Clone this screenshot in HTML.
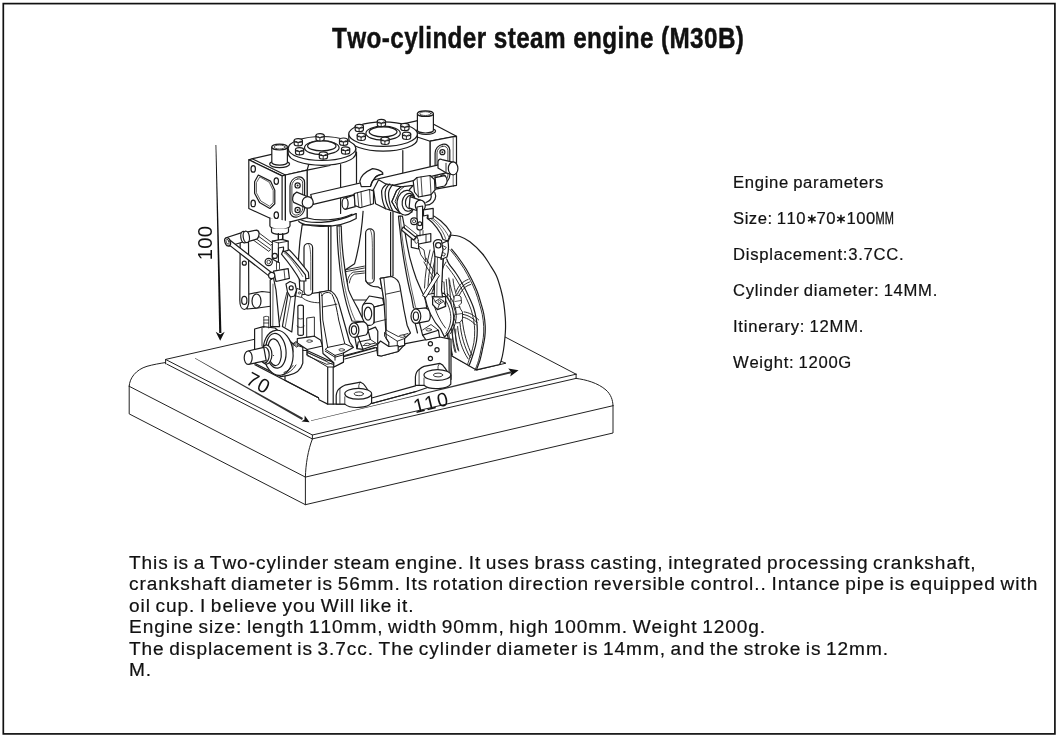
<!DOCTYPE html>
<html>
<head>
<meta charset="utf-8">
<title>Two-cylinder steam engine (M30B)</title>
<style>
html,body{margin:0;padding:0;background:#fff;}
body{filter:grayscale(1);width:1058px;height:738px;position:relative;overflow:hidden;font-family:"Liberation Sans",sans-serif;color:#111;}
#frame{position:absolute;left:3px;top:3px;width:1051px;height:730px;border:1.6px solid #1a1a1a;box-sizing:border-box;}
.t{font-kerning:none;position:absolute;white-space:nowrap;transform-origin:0 0;line-height:1;}
#title{-webkit-text-stroke:0.45px #111;left:332.4px;top:22.8px;font-weight:bold;font-size:30px;transform:scaleX(0.81);letter-spacing:0.489px;}
.p{-webkit-text-stroke:0.2px #111;word-spacing:-1px;font-size:16px;left:733px;transform:scaleX(1.04);letter-spacing:0.5px;}
.d{-webkit-text-stroke:0.2px #111;word-spacing:-1.5px;font-size:18px;left:129.2px;transform:scaleX(1.06);letter-spacing:0.65px;}
.mm{-webkit-text-stroke:0.35px #111;display:inline-block;width:8.6px;transform:scaleX(0.66);transform-origin:0 50%;letter-spacing:0;}
.ast{display:inline-block;width:9.6px;height:10px;vertical-align:0.5px;margin:0 0.2px;}
#art{position:absolute;left:0;top:0;width:1058px;height:738px;}
</style>
</head>
<body>
<div class="t" id="title">Two-cylinder steam engine (M30B)</div>
<div class="t p" id="p1" style="top:175px;letter-spacing:0.650px">Engine parameters</div>
<div class="t p" id="p2" style="top:211px;letter-spacing:0.511px">Size: 110<svg class="ast" viewBox="0 0 10 10"><path d="M5 0.6V9.4M1.2 2.8L8.8 7.2M8.8 2.8L1.2 7.2" stroke="#111" stroke-width="1.5" fill="none"/></svg>70<svg class="ast" viewBox="0 0 10 10"><path d="M5 0.6V9.4M1.2 2.8L8.8 7.2M8.8 2.8L1.2 7.2" stroke="#111" stroke-width="1.5" fill="none"/></svg>100<span class="mm">M</span><span class="mm">M</span></div>
<div class="t p" id="p3" style="top:247px;letter-spacing:0.720px">Displacement:3.7CC.</div>
<div class="t p" id="p4" style="top:283px;letter-spacing:0.662px">Cylinder diameter: 14MM.</div>
<div class="t p" id="p5" style="top:319px;letter-spacing:0.718px">Itinerary: 12MM.</div>
<div class="t p" id="p6" style="top:355px;letter-spacing:0.669px">Weight: 1200G</div>
<div class="t d" id="d1" style="top:554px;letter-spacing:0.874px">This is a Two-cylinder steam engine. It uses brass casting, integrated processing crankshaft,</div>
<div class="t d" id="d2" style="top:575px;letter-spacing:0.881px">crankshaft diameter is 56mm. Its rotation direction reversible control.. Intance pipe is equipped with</div>
<div class="t d" id="d3" style="top:597px;letter-spacing:0.882px">oil cup. I believe you Will like it.</div>
<div class="t d" id="d4" style="top:618px;letter-spacing:0.862px">Engine size: length 110mm, width 90mm, high 100mm. Weight 1200g.</div>
<div class="t d" id="d5" style="top:640px;letter-spacing:0.866px">The displacement is 3.7cc. The cylinder diameter is 14mm, and the stroke is 12mm.</div>
<div class="t d" id="d6" style="top:661px;letter-spacing:0.88px">M.</div>
<svg id="art" viewBox="0 0 1058 738" fill="none" stroke="#222" stroke-width="1" stroke-linecap="round" stroke-linejoin="round">
<rect x="3.3" y="3.6" width="1051.6" height="730.3" stroke="#111" stroke-width="1.7" fill="none" stroke-linejoin="miter"/>

<g id="base" stroke="#222" stroke-width="1">
<path d="M129.2,386.2V413.9L305.4,504.7L613,433V405.7"/>
<path d="M129.2,386.2C129.5,378 136,369.6 147,366.3C153,364.6 160,363.4 165.2,362.6"/>
<path d="M165.6,359.4V363.8"/>
<path d="M129.2,386.3L305.4,477.1L613,405.7"/>
<path d="M305.4,477.1V504.7"/>
<path d="M305.4,477.1C305.6,465 308,450 312.4,438.9"/>
<path d="M312.4,435V438.9"/>
<path d="M166.1,359.7L312.4,435L576.1,374.2"/>
<path d="M166.8,364.1L312.3,438.9L576.1,378.4"/>
<path d="M576.1,374.2V378.4"/>
<path d="M576.1,378.4C586,379.6 598,383 606,390C611,394.5 612.8,400 613,405.7"/>
<path d="M504.9,336.9L576.1,374.2"/>
<path d="M166.1,359.3L254,339.4"/>
</g>
<g id="dims" stroke="none" fill="#111">
<path d="M215.5,144.9L216.3,144.9L221.4,333L219.2,333Z"/>
<path d="M220.2,340.7L215.7,331.8L220.2,334.6L224.7,331.8Z"/>
<path d="M195.2,358.1L230,377.5L303,418L302,420L229.6,378.4L195,358.6Z" fill="#333"/>
<path d="M309.6,422.3L301.5,421.6L304.5,419.4L304.7,415.6Z"/>
<path d="M310.9,420.5L400,398.9L511,371.2L511.5,373.2L400,399.7L311,421Z" fill="#333"/>
<path d="M518.6,370.3L510.2,376.6L511.4,372.2L508.2,368.4Z"/>
</g>
<g id="dimtext" stroke="none" fill="#111" font-family="Liberation Sans, sans-serif" text-anchor="middle">
<text transform="translate(211.7,243) rotate(-90)" font-size="20.2" letter-spacing="0.3">100</text>
<text transform="translate(255.4,389) rotate(28.5)" font-size="19.8" letter-spacing="1">70</text>
<text transform="translate(433.3,408.8) rotate(-13.6)" font-size="19.6" letter-spacing="2">110</text>
</g>

<g id="flywheel" stroke="#1c1c1c" stroke-width="1.20" fill="#fff">
<!-- slot in platform -->
<path d="M451.6,355.9L477.2,369.9L505.9,363.2L500.4,361" fill="none" stroke-width="1.00"/>
<!-- outer rim + face -->
<path d="M451.0,235.1C452.5,235.3 456.9,235.4 460.0,236.5C463.1,237.6 466.1,238.9 469.9,241.8C473.7,244.7 479.2,250.1 482.6,254.0C486.0,257.9 487.6,261.3 490.0,265.0C492.4,268.7 494.9,272.2 496.7,276.4C498.5,280.6 499.8,285.6 501.0,290.0C502.2,294.4 503.0,298.2 503.7,302.9C504.4,307.6 505.0,313.6 505.3,318.0C505.6,322.4 505.6,326.0 505.5,329.3C505.4,332.6 505.2,334.6 504.9,338.0C504.6,341.4 504.1,346.2 503.5,350.0C502.9,353.8 501.8,358.6 501.1,361.0C500.4,363.4 499.8,363.9 499.5,364.5L476.4,369.9L452,356L440,300L444,250Z"/>
<!-- front rim edge (double) -->
<path d="M451.6,249.1C452.7,250.4 455.6,253.8 457.9,257.0C460.2,260.1 463.1,264.2 465.5,268.0C467.9,271.8 470.1,276.2 472.0,280.0C473.9,283.8 475.5,287.2 477.0,291.0C478.5,294.8 479.7,299.1 480.8,302.9C481.9,306.7 483.1,310.2 483.8,314.0C484.5,317.8 485.0,322.0 485.2,325.8C485.4,329.6 485.2,333.2 484.8,337.0C484.4,340.8 483.4,344.9 482.6,348.7C481.8,352.5 481.0,356.5 480.0,360.0C479.0,363.5 477.0,368.2 476.4,369.9" fill="none"/>
<path d="M450.1,249.7C451.2,251.0 454.1,254.5 456.4,257.6C458.7,260.8 461.6,264.8 464.0,268.6C466.4,272.4 468.6,276.8 470.5,280.6C472.4,284.4 474.0,287.8 475.5,291.6C477.0,295.4 478.2,299.7 479.3,303.5C480.4,307.3 481.6,310.8 482.3,314.6C483.0,318.4 483.5,322.6 483.7,326.4C483.9,330.2 483.7,333.8 483.3,337.6C482.9,341.4 481.9,345.5 481.1,349.3C480.3,353.1 479.5,357.1 478.5,360.6C477.5,364.1 475.5,368.9 474.9,370.5" fill="none" stroke-width="0.90"/>
<!-- inner rim -->
<path d="M446.7,258.9C447.1,259.8 447.5,261.6 449.1,264.1C450.7,266.6 454.1,270.5 456.5,274.0C458.9,277.5 461.1,281.5 463.2,285.3C465.3,289.1 467.2,293.2 469.0,297.0C470.8,300.8 472.5,304.5 473.7,308.2C474.9,311.9 475.7,315.5 476.3,319.0C476.9,322.5 477.3,325.6 477.3,329.3C477.3,333.0 477.1,337.2 476.5,341.0C475.9,344.8 474.8,348.6 473.7,352.2C472.6,355.8 471.0,360.6 470.2,362.8C469.4,365.0 468.9,365.1 468.7,365.6" fill="none"/>
<path d="M446.5,265.6C447.7,267.2 451.5,272.0 453.9,275.5C456.2,279.0 458.5,283.0 460.6,286.8C462.7,290.6 464.6,294.7 466.4,298.5C468.1,302.3 469.9,306.0 471.1,309.7C472.3,313.4 473.1,317.0 473.7,320.5C474.3,324.0 474.7,327.1 474.7,330.8C474.7,334.5 474.5,338.7 473.9,342.5C473.3,346.3 472.1,350.1 471.1,353.7C470.0,357.3 468.2,362.5 467.6,364.3" fill="none" stroke-width="0.90"/>
<!-- far-side inner rim (left) -->
<path d="M446.2,279.4C448,300 450,330 456,352.5M448.8,278C450.6,300 452.8,328 458.8,351M444,282C445,305 448,335 452.5,355" fill="none" stroke-width="0.90"/>
<!-- spokes -->
<path d="M456,292C458,286 462.5,281.5 468.2,279.4M459,296C461.5,290 465,286 470.6,284.5M457.5,294C460,288 464,284 469.5,282" fill="none" stroke-width="0.95"/>
<path d="M460.9,316.7C466,317.5 471,320 475.5,324.9M464.1,311.9C469,312.5 474,315 478.7,320M462.5,314.3C467.5,315 472.5,317.5 477,322.5" fill="none" stroke-width="0.95"/>
<path d="M457.6,326.5C458.5,338 462,350 468.2,359M462.3,320C463.5,332 467,345 472.2,355.7M460,323.2C461,335 464.5,348 470.3,357.5" fill="none" stroke-width="0.95"/>
<path d="M454,298C452,292 450,286 449.5,280M456.5,296C455,290 453.5,285 453,279" fill="none" stroke-width="0.90"/>
<path d="M453,328C452,336 452.5,345 455,352M455.8,329C455.2,337 455.8,344 458,350" fill="none" stroke-width="0.90"/>
<!-- hub blocks -->
<path d="M454.5,296C456.5,294.5 459.5,295 461,297L461.5,303L459,305.5L460.5,309L462.5,312V319L460,322.5L456,323L454,318L455.5,312L453.5,306Z" stroke-width="0.9"/>
<path d="M455,301.5L461,300.5M454.5,308L460,307M455.5,314.5L462,313.5" fill="none" stroke-width="0.7"/>
<!-- spokes visible left of strap, behind linkage -->
<path d="M443,268C438,276 432,290 430,300M440.5,266C435,275 429,288 427,298M446,262C441,270 436,281 433.5,290" fill="none" stroke-width="0.90"/>
<path d="M446,300C440,292 436,282 434,272M444,304C438,297 433,287 431,277" fill="none" stroke-width="0.90"/>
<path d="M430,250C427,262 425,275 424.5,288M433.5,251C430.5,262 428.5,275 428,286M437,252C434,262 432,272 431.5,282" fill="none" stroke-width="0.90"/>
<path d="M424,262C428,270 434,279 441,286M426,258C430,266 436,275 443,282" fill="none" stroke-width="0.90"/>
</g>

<g id="columns" stroke="#1c1c1c" stroke-width="1.20" fill="#fff">
<!-- base box body -->
<path d="M285,350L307,350.5L333.8,362.7L343.5,356.6L376.5,347.5L377.7,355.4L381.3,356L398.2,351.5L405.5,343.7L439.6,337L449.1,338.8L451,339V379.5L416,391.5L371.6,403.5L333.2,404.1L327.7,404.1L319,399.8L318.4,397.7L285,380.34Z"/>
<path d="M327.7,367V404.1M333.2,367V404.1M449.1,338.8V380" fill="none"/>
<path d="M307,354.8L327.7,367L333.8,367L343.5,362.1V356.6M307,350.5V354.8M333.8,362.7V367" fill="none" stroke-width="1.00"/>
<path d="M308,352.5L333,364.8L343,359.5" fill="none" stroke-width="0.70"/>
<path d="M344.8,359L376.5,350.5M344.8,355.4L375.2,347.4" fill="none" stroke-width="1.00"/>
<path d="M254.9,364.7L318.4,397.7" fill="none"/>
<path d="M371.6,398L415.4,385.8M371.6,403.5L416,391.5" fill="none"/>
<circle cx="430.4" cy="343.7" r="2.1"/><circle cx="437" cy="349.8" r="2.1"/><circle cx="430.4" cy="358.5" r="2.1"/>
<!-- left lug -->
<path d="M336.2,395.6C336.6,392 338,389.5 339.9,388.3C341.5,386.8 343,385.8 344.8,385.2L360.6,382.2C363,383 364.6,384.8 365.5,386.5L369.1,392L371.6,394.4V402.9C368,408 351,409.5 344.8,404.1L336.2,404.1Z"/>
<path d="M344.8,396.8V404.1M339.9,388.3V403.5M360.6,382.2C358.6,384 358.2,386.5 359.2,388.6" fill="none" stroke-width="0.80"/>
<ellipse cx="358.2" cy="393.8" rx="13.4" ry="5.4"/>
<ellipse cx="358.8" cy="393.8" rx="4.6" ry="1.9" stroke-width="0.90"/>
<!-- right lug -->
<path d="M415.4,376.8C415.8,373.2 417.2,370.7 419.1,369.5C420.7,368.0 422.2,367.0 424.0,366.4L439.8,363.4C442.2,364.2 443.8,366.0 444.7,367.7L448.3,373.2L450.8,375.6V384.1C447.2,389.2 430.2,390.7 424.0,385.3L415.4,385.3Z"/>
<path d="M424.0,378.0V385.3M419.1,369.5V384.7M439.8,363.4C437.8,365.2 437.4,367.7 438.4,369.8" fill="none" stroke-width="0.80"/>
<ellipse cx="437.4" cy="375.0" rx="13.4" ry="5.4"/>
<ellipse cx="438.0" cy="375.0" rx="4.6" ry="1.9" stroke-width="0.90"/>
<!-- left column -->
<path d="M302.2,224.6C300,238 298.8,250 298.5,261.2L300,295L319.3,292.3L330.9,290.5V225.9Z"/>
<path d="M328.4,225.9V290.5" fill="none"/>
<rect x="304" y="243.5" width="8.6" height="51.9" rx="4.3"/>
<path d="M308.8,244.5C310.6,247 310.8,255 310.8,265V290" fill="none" stroke-width="0.70"/>
<path d="M300,295C303,300.5 312,303.2 320.5,302.7" fill="none" stroke-width="0.9"/>
<!-- right column -->
<path d="M363.2,210C362,228 359,248 354.6,263.7L345.5,269.8L347,300L384,300L380.2,278.3L391.2,276.5L393,276V210Z"/>
<path d="M390.6,212V276" fill="none"/>
<rect x="365.6" y="228.9" width="8.6" height="54.3" rx="4.3"/>
<path d="M370.4,230C372.2,233 372.4,241 372.4,251V279" fill="none" stroke-width="0.70"/>
<path d="M345.5,269.8L364.4,266.1M346,271.6L364.4,268" fill="none" stroke-width="0.90"/>
<path d="M347.3,282C348,277 350,273.5 353.4,272.2L364.4,271M349.3,283C350,279 351.5,275.5 354.4,274.2L364.4,273" fill="none" stroke-width="0.90"/>
<path d="M365.6,280.7C368,285 372,287 377.8,286.8L380.5,288.5" fill="none"/>
</g>

<g id="pedestals" stroke="#1c1c1c" stroke-width="1.20" fill="#fff">
<!-- base top plates / flanges (back) -->
<path d="M297.3,338.7L314.4,336.2L320.5,339.9L322.5,346L307.1,349.5L297.3,343Z"/>
<ellipse cx="309.5" cy="341.1" rx="2.8" ry="1.2" stroke-width="0.80"/>
<path d="M307.1,349.5V355.7L326.6,364.3L342.4,361.2M307.1,352.5L326.6,361L342.4,358" fill="none" stroke-width="0.90"/>
<!-- middle pedestal -->
<path d="M380.2,278.3L391.2,276.5C396,278 399,281 399.8,285.6L404,310L407.1,325.2L410.5,333L404.6,338.5V345.4L397.3,347.2V351.5L388.8,346.5V342.3L386.3,338.7L383.9,300Z"/>
<path d="M383.9,278.3L386,300L386.3,330.2L398.2,336.5L407.9,333.5" fill="none" stroke-width="0.90"/>
<path d="M386.3,294.1L399.8,291.1" fill="none" stroke-width="0.90"/>
<path d="M386.3,330.2L384.5,333L397.3,341.2L404.6,338.5M397.3,341.2V347.2M384.5,333V336L388.8,342.3" fill="none" stroke-width="0.90"/>
<ellipse cx="402.3" cy="336.2" rx="2.8" ry="1.2" stroke-width="0.80"/>
<!-- crank web & shaft -->
<path d="M363.2,304.5L369.3,296L382.7,298.4L383.9,304.5L374.1,307V322.8L363.2,325.4Z"/>
<rect x="362.2" y="303.4" width="11.8" height="22" rx="4.5"/>
<ellipse cx="368" cy="313.7" rx="3.7" ry="6.5"/>
<path d="M374.1,307L383.9,304.5M374,322.5L386,319.5" fill="none" stroke-width="0.90"/>
<!-- plates in front of crank -->
<path d="M358.2,342L370.4,339.5L368,330.1L375.4,327.1L377.8,331.3L377.7,344.4V355.4L381.3,356L398.2,351.5V345.5L388.8,346.5L380.5,341L377.7,344.4L363,349.3L357,348.7Z"/>
<path d="M363,345.6L375.2,343.2M377.7,344.4L370.4,339.5" fill="none" stroke-width="0.90"/>
<ellipse cx="367.3" cy="344.4" rx="2.8" ry="1.2" stroke-width="0.80"/>
<!-- left pedestal -->
<path d="M319.3,292.3L329,290.5C333,291.5 336.5,295 338.8,303.3L343.5,320L349.6,342L353.3,347.4L343.5,352.9V362.1L333.8,367L333.8,362.7L323,353.5L320.4,320Z"/>
<path d="M322,295.4L322.8,320L327.7,347.4L344.8,343.8L338.7,320C337,310 335,300 332,294.5C330,291.5 324,291.8 322,295.4Z" stroke-width="1.00"/>
<path d="M322.3,307L336.8,304.2" fill="none" stroke-width="0.90"/>
<path d="M319.3,292.3C320,291.5 321.5,293 322,295.4" fill="none" stroke-width="0.80"/>
<path d="M327.7,347.4L325.2,349.3L335,355.4L343.5,352.9M344.8,343.8L353.3,347.4M335,355.4V360.2M325.2,351.1L335,357.2L343.5,354.8" fill="none" stroke-width="1.00"/>
<ellipse cx="341.7" cy="349.9" rx="2.8" ry="1.2" stroke-width="0.80"/>
<!-- left conn leg -->
<path d="M337,225.9C337.5,250 340,272 342.4,285C345,300 348.5,312 352,321L364,321.6C361.5,316 359.5,312 358.3,309.4C353,300 350,294 348.5,289.9C344,268 341.5,245 341.2,225.9Z"/>
<path d="M339.2,226C339.6,250 342,272 344.6,286C347,298 350.5,311 355,320" fill="none" stroke-width="0.70"/>
<!-- left boss -->
<path d="M354,322.8L363.2,321.6C366.5,322.5 368.2,326 368,330C367.8,333 366.8,334.6 365.6,335L354.6,337.4Z"/>
<ellipse cx="354" cy="330.1" rx="4.9" ry="7.3"/>
<ellipse cx="354" cy="330.1" rx="2.6" ry="4.2"/>
<path d="M355.1,338.3L357,348.7M358.2,337.1L363,349.3" fill="none"/>
<!-- right conn leg -->
<path d="M398.5,216.1C399,222 399.5,226 400,229.9C401,242 403,255 404.9,265.7C407,278 409,288 411.4,296.6L413.5,308L427,309.6C426.5,304 425.5,300 424.4,296.6C421,290 418.5,284 416.3,278.7C413.5,271 411.5,264 409.8,257.6C407,245 405,234 404.1,225L402.4,216Z"/>
<path d="M400.4,216C401,232 404,252 407,267C409.5,280 412.5,294 415.5,307" fill="none" stroke-width="0.70"/>
<!-- right boss -->
<path d="M415.9,309L425.5,307.8C428.8,308.7 430.5,312.2 430.3,316.2C430.1,319.2 429.1,320.8 427.9,321.2L416.5,323.4Z"/>
<ellipse cx="415.9" cy="316.2" rx="4.9" ry="7.2"/>
<ellipse cx="415.9" cy="316.2" rx="2.6" ry="4.2"/>
<path d="M415.2,323.4L417.5,333M419.5,323L422.6,335.1" fill="none"/>
<path d="M422.6,335.1L438.4,330.2L439.6,337L426,340Z"/>
<ellipse cx="428.7" cy="329.8" rx="2.8" ry="1.2" stroke-width="0.80"/>
<path d="M422.6,330L431,324.5L438.4,330.2" fill="none" stroke-width="0.90"/>
</g>

<g id="block" stroke="#1c1c1c" stroke-width="1.20" fill="#fff">
<!-- cylinder block body -->
<path d="M307.1,170.1L307.1,217.7L322,224L356.5,213.4L356.5,150L340,160Z" stroke="none"/>
<path d="M356.5,140L356.5,210L380,213L402.8,210L430.2,190.2L430.2,141.2L415,130Z" stroke="none"/>
<path d="M307.1,170.1V217.7M340.6,164.6V213.4M356.5,152V206M402.8,150.6V177M430.2,141.2V167"/>
<path d="M307.1,170.1L330,165.5"/>
<!-- left cyl bottom flange -->
<path d="M300,219.5C308,223.3 330,225.2 356,213.6" fill="none"/>
<path d="M307.5,218C318,221.3 338,220.6 352,214.2" fill="none"/>
<path d="M298.6,221C300,226 335,231 356.2,218.5V213.5" fill="none"/>
<!-- right valve chest -->
<path d="M403.4,123.8L424.1,119.2L456.5,136.3L453.4,136.9L430.2,141.2L418,137.2Z"/>
<path d="M430.2,141.2L453.4,136.6V185.8L430.2,190.2Z"/>
<path d="M453.4,136.6L456.5,136.3V185.3L453.4,185.8"/>
<rect x="435.1" y="144.3" width="14.7" height="39.5" rx="7.3" transform="skewY(-11) translate(0,86)"/>
<rect x="437" y="146.3" width="10.9" height="35.5" rx="5.4" transform="skewY(-11) translate(0,86)" stroke-width="0.80"/>
<circle cx="442.4" cy="152.2" r="2.5"/><circle cx="442.4" cy="152.2" r="1" fill="#222" stroke="none"/>
<circle cx="443" cy="177.4" r="2.5"/><circle cx="443" cy="177.4" r="1" fill="#222" stroke="none"/>
<!-- right oil cup -->
<ellipse cx="426" cy="131.1" rx="9.6" ry="3.4"/>
<path d="M417.4,113.7V130.2A8,2.8 0 0 0 433.4,130.2V113.7"/>
<ellipse cx="425.4" cy="113.7" rx="8" ry="2.8"/>
<ellipse cx="425.4" cy="113.6" rx="5.6" ry="1.9" stroke-width="0.80"/>
<!-- right cover -->
<path d="M348.8,134.1V138.9A34.3,12.2 0 0 0 417.4,138.9V134.1"/>
<ellipse cx="383.1" cy="134.1" rx="34.3" ry="12.2" stroke-width="1.20"/>
<ellipse cx="383.1" cy="133.2" rx="17.2" ry="7"/>
<ellipse cx="383.1" cy="131.85" rx="13.9" ry="5"/>
<g transform="translate(381.4,122.8)"><path d="M-4.1,-1.6v3.5a4.1,1.9 0 0 0 8.2,0v-3.5" fill="#fff"/><ellipse cx="0" cy="-1.6" rx="4.1" ry="1.9" fill="#fff"/><path d="M-2.2,-0.7L-0.2,0.4L2.3,-0.8M-0.2,0.4V3.6" stroke-width="0.90"/></g><g transform="translate(359.3,127.8)"><path d="M-4.1,-1.6v3.5a4.1,1.9 0 0 0 8.2,0v-3.5" fill="#fff"/><ellipse cx="0" cy="-1.6" rx="4.1" ry="1.9" fill="#fff"/><path d="M-2.2,-0.7L-0.2,0.4L2.3,-0.8M-0.2,0.4V3.6" stroke-width="0.90"/></g><g transform="translate(404.9,126.8)"><path d="M-4.1,-1.6v3.5a4.1,1.9 0 0 0 8.2,0v-3.5" fill="#fff"/><ellipse cx="0" cy="-1.6" rx="4.1" ry="1.9" fill="#fff"/><path d="M-2.2,-0.7L-0.2,0.4L2.3,-0.8M-0.2,0.4V3.6" stroke-width="0.90"/></g>
<g transform="translate(361.3,136.7)"><path d="M-4.1,-1.6v3.5a4.1,1.9 0 0 0 8.2,0v-3.5" fill="#fff"/><ellipse cx="0" cy="-1.6" rx="4.1" ry="1.9" fill="#fff"/><path d="M-2.2,-0.7L-0.2,0.4L2.3,-0.8M-0.2,0.4V3.6" stroke-width="0.90"/></g><g transform="translate(406.6,135.7)"><path d="M-4.1,-1.6v3.5a4.1,1.9 0 0 0 8.2,0v-3.5" fill="#fff"/><ellipse cx="0" cy="-1.6" rx="4.1" ry="1.9" fill="#fff"/><path d="M-2.2,-0.7L-0.2,0.4L2.3,-0.8M-0.2,0.4V3.6" stroke-width="0.90"/></g><g transform="translate(385.1,140.7)"><path d="M-4.1,-1.6v3.5a4.1,1.9 0 0 0 8.2,0v-3.5" fill="#fff"/><ellipse cx="0" cy="-1.6" rx="4.1" ry="1.9" fill="#fff"/><path d="M-2.2,-0.7L-0.2,0.4L2.3,-0.8M-0.2,0.4V3.6" stroke-width="0.90"/></g>
<!-- left valve chest -->
<path d="M248.8,159.8L252.6,158.7L271.5,154.4L290,150.2L310,160L307.1,170.1L285.4,175L282.1,175.9Z"/>
<path d="M248.8,159.8L282.1,175.9V223.8L248.8,208.5Z"/>
<path d="M252.2,158.8L285.4,175V223.2L282.1,223.8" fill="none"/>
<path d="M285.4,175L307.1,170.1V217.7L285.4,223.2Z"/>
<ellipse cx="253.2" cy="168.9" rx="2.2" ry="3.3"/><ellipse cx="276.3" cy="181.1" rx="2.2" ry="3.3"/>
<ellipse cx="253.2" cy="203.4" rx="2.2" ry="3.3"/><ellipse cx="276.3" cy="215.2" rx="2.2" ry="3.3"/>
<path d="M258.3,175L254.6,181.7V193.3L259.5,202.4L269.9,208.5L274.8,203.7V190.2L270.5,181.1Z" stroke-width="1.20"/>
<path d="M259.6,177.2L256.4,182.6V192.8L260.8,201L269.5,206.2L273.2,202.8V190.6L269.4,182.6Z" stroke-width="0.70"/>
<rect x="290" y="177.1" width="14.6" height="40" rx="7.3" transform="skewY(-12.5) translate(0,65.8)"/>
<rect x="291.9" y="179.1" width="10.8" height="36" rx="5.4" transform="skewY(-12.5) translate(0,65.8)" stroke-width="0.80"/>
<circle cx="297.6" cy="185.4" r="2.6"/><circle cx="297.6" cy="185.4" r="1" fill="#222" stroke="none"/>
<circle cx="297.6" cy="210" r="2.6"/><circle cx="297.6" cy="210" r="1" fill="#222" stroke="none"/>
<!-- left oil cup -->
<ellipse cx="279.6" cy="164.1" rx="10" ry="3.5"/>
<path d="M271.8,147.1V162.3A7.8,2.8 0 0 0 287.4,162.3V147.1"/>
<ellipse cx="279.6" cy="147.1" rx="7.8" ry="2.9"/>
<ellipse cx="279.6" cy="147" rx="5.5" ry="2" stroke-width="0.80"/>
<!-- left cover -->
<path d="M288.2,148.5V153.3A33.8,12 0 0 0 355.8,153.3V148.5"/>
<ellipse cx="322" cy="148.5" rx="33.8" ry="12" stroke-width="1.20"/>
<ellipse cx="321.8" cy="147.7" rx="17.3" ry="7"/>
<ellipse cx="321.8" cy="145.9" rx="14.2" ry="5"/>
<g transform="translate(320.1,137.2)"><path d="M-4.1,-1.6v3.5a4.1,1.9 0 0 0 8.2,0v-3.5" fill="#fff"/><ellipse cx="0" cy="-1.6" rx="4.1" ry="1.9" fill="#fff"/><path d="M-2.2,-0.7L-0.2,0.4L2.3,-0.8M-0.2,0.4V3.6" stroke-width="0.90"/></g><g transform="translate(298.3,142.1)"><path d="M-4.1,-1.6v3.5a4.1,1.9 0 0 0 8.2,0v-3.5" fill="#fff"/><ellipse cx="0" cy="-1.6" rx="4.1" ry="1.9" fill="#fff"/><path d="M-2.2,-0.7L-0.2,0.4L2.3,-0.8M-0.2,0.4V3.6" stroke-width="0.90"/></g><g transform="translate(343.6,141.5)"><path d="M-4.1,-1.6v3.5a4.1,1.9 0 0 0 8.2,0v-3.5" fill="#fff"/><ellipse cx="0" cy="-1.6" rx="4.1" ry="1.9" fill="#fff"/><path d="M-2.2,-0.7L-0.2,0.4L2.3,-0.8M-0.2,0.4V3.6" stroke-width="0.90"/></g>
<g transform="translate(299.6,151.1)"><path d="M-4.1,-1.6v3.5a4.1,1.9 0 0 0 8.2,0v-3.5" fill="#fff"/><ellipse cx="0" cy="-1.6" rx="4.1" ry="1.9" fill="#fff"/><path d="M-2.2,-0.7L-0.2,0.4L2.3,-0.8M-0.2,0.4V3.6" stroke-width="0.90"/></g><g transform="translate(345.6,150.4)"><path d="M-4.1,-1.6v3.5a4.1,1.9 0 0 0 8.2,0v-3.5" fill="#fff"/><ellipse cx="0" cy="-1.6" rx="4.1" ry="1.9" fill="#fff"/><path d="M-2.2,-0.7L-0.2,0.4L2.3,-0.8M-0.2,0.4V3.6" stroke-width="0.90"/></g><g transform="translate(323.4,155.4)"><path d="M-4.1,-1.6v3.5a4.1,1.9 0 0 0 8.2,0v-3.5" fill="#fff"/><ellipse cx="0" cy="-1.6" rx="4.1" ry="1.9" fill="#fff"/><path d="M-2.2,-0.7L-0.2,0.4L2.3,-0.8M-0.2,0.4V3.6" stroke-width="0.90"/></g>
<!-- gland under left chest -->
<path d="M269.9,218V226A10,3.2 0 0 0 290,226V221.5" />
<path d="M271.5,228.5V231.5A8.5,2.8 0 0 0 288.5,231.5V228.5" />
<path d="M278.4,234V240.5M282.7,234V240" fill="none"/>
</g>

<g id="pipes" stroke="#1c1c1c" stroke-width="1.20" fill="#fff">
<!-- long cross rod -->
<path d="M310.7,194.5L446,163.1L447,172.7L313.2,204.3Z"/>
<!-- right knob & stub -->
<path d="M438,163.5C437.6,160 439.5,158.2 442,159.6L453.5,162.4L452,174.5L446,172.8L438,168Z"/>
<path d="M446,163.3V172.8" fill="none" stroke-width="0.90"/>
<ellipse cx="453.1" cy="168.4" rx="4.8" ry="6.5"/>
<!-- left stub & cap -->
<path d="M296.7,192.1L308.3,197L304.6,207.3L293.7,202.4C291.5,200 292.5,194 296.7,192.1Z"/>
<ellipse cx="307.7" cy="202.4" rx="5.5" ry="5.8"/>
<!-- boss on cylinder -->
<path d="M359.8,181.3C360.5,176 364.4,172.2 372.5,168.6C378,169 381,171 382.7,172.7L382.7,174.2C378,175 375.5,177 374.6,178.3C372,181 371,184 370.5,186.4L361.3,186.6Z"/>
<path d="M382.7,174.2C378,175 375.5,177 374.6,178.3C372,181 371,184 370.5,186.4" fill="none"/>
<!-- right pipe nut & bend -->
<path d="M413.2,181L417,177.5L430,175.5L434.5,179.5L435,190L431,194.6L418.5,197L414.5,192Z"/>
<path d="M417,177.5L418.5,197M430,175.5L431,194.6M421,177L422.2,196.2" fill="none" stroke-width="0.80"/>
<path d="M434.8,192.5C437,197 435,202 429.4,204.7L424,205.5M431,194.6C432,198 430,201 426,202.5" fill="none"/>
<path d="M435.1,177.6L444.6,175.6C448,178 448,183.5 444.6,186L436,187.9Z"/>
<!-- T body -->
<path d="M373.5,189.5L378.6,179.8L385.7,183.9L401,186.9L400,213.4L385.7,208.8L375.6,203.7Z"/>
<path d="M386.2,184.4C382.5,187 381.2,191 381.7,193.5C382,200 383.5,205 385.7,208.8M389.8,183.9C386,187 384.8,191 385.2,195C385.5,201 387.5,206 389.8,209.8M392.8,184.6C389.4,188 388.2,192 388.6,196C389,202 390.6,207 392.6,210.6" fill="none"/>
<!-- hex nut -->
<path d="M401,186.9L413.2,185.4L409.5,189.5L404.5,201L407.5,207L412,212L400,213.4L395.4,207.8L391.8,201.7L396.6,190.5Z"/>
<path d="M401,186.9L396.6,190.5L391.8,201.7L395.4,207.8L400,213.4M404.2,186.6L399.8,190.3L395,201.6L398.6,207.6L403.2,213" fill="none" stroke-width="0.90"/>
<!-- washer -->
<ellipse cx="406.1" cy="202.7" rx="9.1" ry="12.4" transform="rotate(8 406.1 202.7)"/>
<ellipse cx="408.6" cy="202.3" rx="6.4" ry="9" transform="rotate(8 408.6 202.3)"/>
<ellipse cx="410.1" cy="202" rx="4.6" ry="6.6" transform="rotate(8 410.1 202)"/>
<!-- knob -->
<path d="M410.1,196.6L420.3,200.1L417.2,210.8L409.1,207.8Z"/>
<ellipse cx="420.3" cy="205.7" rx="5" ry="5.6"/>
<!-- left pipe & nut -->
<path d="M345.1,198.1L354.2,195L355.2,206.7L345.1,209.3Z"/>
<ellipse cx="345.1" cy="203.5" rx="3" ry="5.7" stroke-width="1.20"/>
<path d="M354.2,193.5L369.5,189.5L373.5,191L373.5,203.7L360.3,207.8L355,205.5Z"/>
<path d="M357.5,192.8L358.8,207M369.5,189.5L370.5,204.8M361,192L362,206.8" fill="none" stroke-width="0.80"/>
</g>

<g id="lbearing" stroke="#1c1c1c" stroke-width="1.20" fill="#fff">
<!-- bearing block -->
<path d="M254.6,329L263.2,326.6L275,328L293,343.7L302.8,347.3V363.2C301,370 296,374 288.2,375.4L280.9,376.6L254.6,363.2Z"/>
<path d="M262,327.5V346M293,343.7V352M293,343.7L296,341.5L302.8,347.3" fill="none" stroke-width="0.90"/>
<path d="M296.7,342.6L299.6,344.9L296.7,347.2L293.8,344.9Z" stroke-width="0.90"/><circle cx="296.7" cy="344.9" r="1.1" stroke-width="0.70"/>
<!-- stud -->
<path d="M263.8,317V327.5M268.7,317V328M263.8,317C265,316 267.5,316 268.7,317M263.8,320H268.7M263.8,323H268.7" fill="none" stroke-width="0.80"/>
<!-- strap rings -->
<ellipse cx="278.1" cy="352.8" rx="14.9" ry="22.6" transform="rotate(-6 278.1 352.8)"/>
<ellipse cx="276" cy="350.8" rx="10" ry="17.4" transform="rotate(-6 276 350.8)"/>
<ellipse cx="274.5" cy="352.2" rx="6.7" ry="13.4" transform="rotate(-6 274.5 352.2)"/>
<path d="M284,372.5C288,371 291,368.5 293,365.5M282.5,375C288.5,373.5 293,370 296,365" fill="none" stroke-width="0.90"/>
<!-- collar -->
<ellipse cx="266.3" cy="354.5" rx="5.6" ry="9.6"/>
<ellipse cx="264.6" cy="355" rx="4.6" ry="8"/>
<!-- shaft -->
<path d="M248.2,351L263.8,347.3L266.2,360.7L248.2,364.4Z"/>
<ellipse cx="248.2" cy="357.7" rx="4" ry="6.7"/>
<circle cx="273.5" cy="355.5" r="0.6" fill="#222" stroke="none"/>
</g>

<g id="llink" stroke="#1c1c1c" stroke-width="1.20" fill="#fff">
<!-- weigh shaft -->
<path d="M247,294.5L262,291.5L271,292.5L272,306L258,308L247,309Z"/>
<ellipse cx="256.5" cy="301" rx="4.5" ry="7"/>
<!-- vertical lever -->
<path d="M240.2,238.5C240,236 242,234.2 244.3,234.2C246.6,234.2 248.6,236 248.5,238.5L248.8,300C249,305.5 247,309.5 244.3,309.5C241.6,309.5 239.8,305.5 239.8,300Z"/>
<circle cx="244.3" cy="263.2" r="2"/>
<ellipse cx="244.3" cy="300.4" rx="2.6" ry="4"/>
<!-- eccentric rods -->
<path d="M270.5,326.6L270.2,280L273.5,278L276,290L279.6,326.6Z"/>
<path d="M282.4,326.5L288.3,292L291,285L296.3,290L295.2,298L291.8,332Z"/>
<path d="M272.8,326L273,284M285.2,327L291.5,293" fill="none" stroke-width="0.70"/>
<path d="M279.5,322L287,292L291,289" fill="none" stroke-width="0.90"/>
<!-- drain cock -->
<path d="M297.9,306V334.5A2.8,1.2 0 0 0 303.4,334.5V306A2.8,1.2 0 0 0 297.9,306Z"/>
<path d="M297.9,318A2.8,1.2 0 0 0 303.4,318M297,326A3.5,1.4 0 0 0 304.3,326" fill="none" stroke-width="0.80"/>
<path d="M307.1,318L314.4,317L314.4,336L307.1,337Z" stroke-width="0.90"/>
<!-- expansion link (banana) -->
<path d="M286.5,247.8C291,250.6 300,261.6 308.4,272.4L308.9,278.5L303.4,278.6C299,270.6 291,259.6 284.5,251.8Z"/>
<path d="M283.3,250.2C288,253 297,264 305.4,274.8L305.9,280.9L300.4,281C296,273 288,262 281.5,254.2Z"/>
<path d="M284,252.6C289,256 296,265 302.8,276.5" fill="none" stroke-width="0.70"/>
<!-- lower link -->
<path d="M286,284L290,281.5L295,283.5L296.5,290L294.5,296L290.5,297L287.5,292Z"/>
<circle cx="291.2" cy="287.9" r="2"/>
<path d="M297.5,288.5L302.5,291L301.5,297.5L296,296Z" stroke-width="0.90"/>
<circle cx="299.3" cy="293" r="1.1" stroke-width="0.70"/>
<!-- crosshead block -->
<path d="M273.5,271.1L288.2,268.7L289.4,278.4L276,281.5Z"/>
<path d="M284,269.4L285,279.4" fill="none" stroke-width="0.80"/>
<!-- clevis & valve rod -->
<path d="M278.4,233.5V241M282.7,233.5V240.5" fill="none"/>
<path d="M272.3,241L282,239.4L288.2,241.2V250.4L283.5,251.5V247L278.4,248V262.5L272.3,259Z"/>
<path d="M278.4,243L288.2,241.2M278.4,243V248M272.3,241L278.4,243" fill="none" stroke-width="0.90"/>
<path d="M276.5,262V269.5M279.5,262.5V269" fill="none" stroke-width="0.80"/>
<!-- bellcrank upper arm -->
<path d="M255.6,234.1L270.8,245.3L272.8,243.3L258.6,232.6Z" stroke-width="0.9"/>
<path d="M253.5,240.2L268.8,251.4L270.6,249.4L255.6,238.4Z" stroke-width="0.9"/>
<path d="M246.9,232.1L256.6,230.1C258.6,230.6 259.4,232.6 258.9,235.2C258.5,237.6 257.6,238.9 256.6,239.2L247.9,241.6Z"/>
<path d="M226.1,237.7L241.8,232.6L244.5,241.5L229,246.3Z"/>
<ellipse cx="243.9" cy="237.2" rx="3.1" ry="5.8" transform="rotate(-8 243.9 237.2)"/>
<ellipse cx="246.3" cy="236.8" rx="3.1" ry="5.8" transform="rotate(-8 246.3 236.8)"/>
<!-- long rod -->
<path d="M229.1,239.5L273,273.7L270.4,277.1L226.5,242.9Z"/>
<ellipse cx="227.6" cy="241.8" rx="2.7" ry="4.2" transform="rotate(-20 227.6 241.8)"/>
<ellipse cx="227.6" cy="241.8" rx="1.4" ry="2.5" transform="rotate(-20 227.6 241.8)" stroke-width="0.80"/>
<circle cx="271.7" cy="275.4" r="3.1"/>
<!-- pins -->
<circle cx="268.7" cy="262" r="3.6"/><circle cx="268.7" cy="262" r="1.8" stroke-width="0.80"/>
<circle cx="274.8" cy="255.9" r="2.5"/>
</g>

<g id="rlink" stroke="#1c1c1c" stroke-width="1.20" fill="#fff">
<!-- eccentric strap crescent -->
<path d="M424.4,295C427,308 432,320 440.7,329.2L444.5,337L448.8,332.4C452.5,327 454,322 453.7,316.2C453,307 449.5,299 444,293.4L436,293Z"/>
<path d="M447.2,293.4C452.5,299 455.6,306 456.2,312.9C456.6,320 455,327 450.5,333.5" fill="none" stroke-width="1.00"/>
<path d="M441,294C446.5,300 450.3,308 450.8,316.5C451,322.5 449.5,328 446,333.5" fill="none" stroke-width="0.90"/>
<path d="M432,296C434,308 438.5,319 445.5,328" fill="none" stroke-width="0.90"/>
<!-- strap lug + bolt square -->
<path d="M432.6,296.6L445.6,296.6L445.6,306.4L437.4,309.6L432.6,304.5Z"/>
<path d="M435.2,301.5L439.6,298.6L443.8,301.2L439.4,304.3Z" stroke-width="0.90"/><circle cx="439.5" cy="301.5" r="1.2" stroke-width="0.70"/>
<path d="M432.6,296.6L435.2,301.5M439.4,304.3L437.4,309.6M443.8,301.2L445.6,306.4" fill="none" stroke-width="0.80"/>
<!-- right eccentric rod from pivot to strap -->
<path d="M435,254.3L443.1,257.6L441.5,290.1L442.5,297L434.2,296.6Z"/>
<path d="M437.5,256L436.8,296" fill="none" stroke-width="0.70"/>
<!-- diagonal second rod -->
<path d="M436.7,272.9L422.6,295.8L426,297.5L439.2,276Z" stroke-width="1.00"/>
<!-- curved strap near rim -->
<path d="M447.8,240.8C449,246 448.5,252 447,257L441,259.5L440.5,244Z"/>
<path d="M442.9,245.7L446.3,247.3L444.9,249.6L441.6,248Z M442.2,252.2L445.5,253.8L444.2,256.2L440.8,254.6Z" stroke-width="0.80"/>
<!-- lever with circle -->
<path d="M433.4,243.2C434,240 438,238.6 441.5,240.5L443,250L441,258L435,256.5Z"/>
<circle cx="438.3" cy="245.3" r="2.7"/>
<!-- banana (double) -->
<path d="M427.1,218L428,213.5C436,216 446,224 451,233L447.8,240.8L443,239.5C441,232 434,223 427.1,218Z"/>
<path d="M428.5,215.8C436,219.5 444.5,228 448.6,236.5" fill="none" stroke-width="0.70"/>
<path d="M427.6,216.6C435,220.5 442.5,229 445.6,238.5" fill="none" stroke-width="0.70"/>
<!-- crosshead block -->
<path d="M411.3,239L417,235.9L430.8,233.5V241.6L418.6,244L418.6,249L411.3,247.3Z"/>
<path d="M417,235.9L418.6,244M426,234.3V242.5" fill="none" stroke-width="0.90"/>
<ellipse cx="416.5" cy="240.5" rx="1.8" ry="2.8" stroke-width="0.80"/>
<!-- rod from block down to boss (narrow) -->
<path d="M418.6,246L424,250L426,262L421,255Z" stroke-width="0.90"/>
<!-- long rod from left -->
<path d="M403.1,227L416.1,237.5L413.5,240L401.5,230Z"/>
<path d="M405,225L418,235.5" fill="none" stroke-width="0.80"/>
<!-- clevis -->
<path d="M423.5,209.9L433.2,208.3V218L428,219V215L423.5,216Z"/>
<!-- drop link -->
<path d="M417,207L422.6,206V228.6C421.5,230.5 418,230.5 417,228.6Z"/>
<circle cx="419.8" cy="223.7" r="1.9"/>
<circle cx="414.1" cy="221.3" r="3.4"/><circle cx="414.1" cy="221.3" r="1.6" stroke-width="0.80"/>
<path d="M420,231V236M423,230.5V235" fill="none" stroke-width="0.80"/>
</g>


</svg>
</body>
</html>
